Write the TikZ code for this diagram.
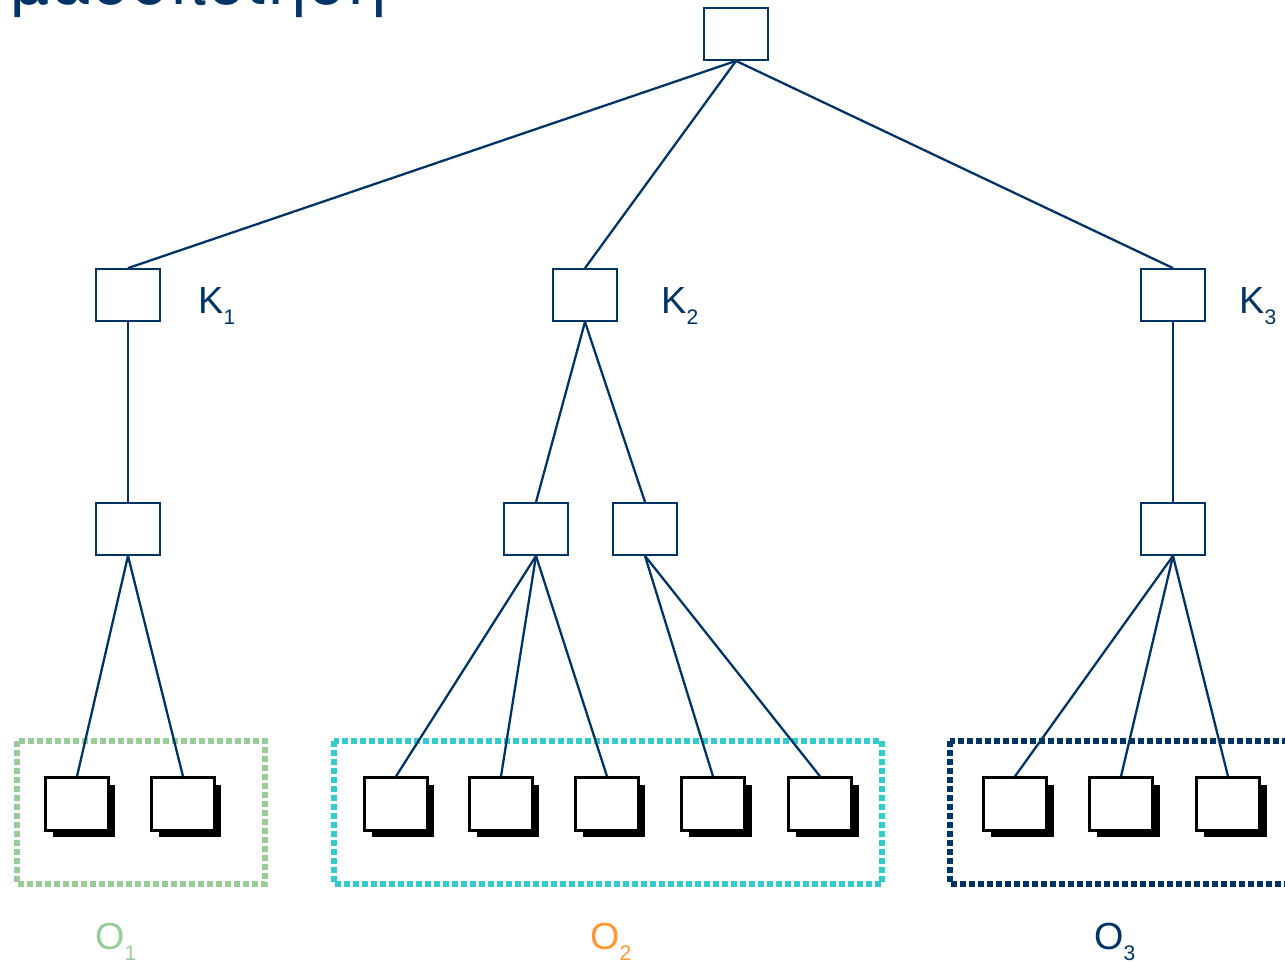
\documentclass[tikz,border=0pt]{standalone}
\usepackage{fontspec}
\setmainfont{Liberation Sans}
\newfontfamily\titlefont{DejaVu Sans}
\usetikzlibrary{shadows}
\definecolor{navy}{RGB}{0,51,102}
\definecolor{cgreen}{RGB}{153,204,153}
\definecolor{ccyan}{RGB}{51,204,204}
\definecolor{corange}{RGB}{255,153,51}
\newcommand{\sublab}[2]{#1\raisebox{-0.3em}{\fontsize{12}{12}\selectfont #2}}
\begin{document}
\begin{tikzpicture}[x=0.02cm,y=-0.02cm,
  box/.style={draw=navy,line width=1.3pt,minimum width=1.27cm,minimum height=1.03cm,inner sep=0pt},
  leaf/.style={draw=black,line width=1.6pt,fill=white,minimum width=1.26cm,minimum height=1.05cm,inner sep=0pt,
    drop shadow={fill=black,opacity=1,shadow xshift=0.14cm,shadow yshift=-0.14cm}},
  edge/.style={draw=navy,line width=1.3pt},
  cluster/.style={line width=3.8pt,dash pattern=on 0.12cm off 0.06cm},
  lbl/.style={font=\fontsize{21.5}{24}\selectfont,inner sep=0pt,anchor=base west}]
\useasboundingbox (0,0) rectangle (1285,963);
\clip (0,0) rectangle (1285,963);
% title, cut by the top edge
\node[anchor=base east,inner sep=0pt,text=navy,font=\titlefont\fontsize{36}{40}\selectfont] (title) at (388,5) {Ομαδοποίηση};
% clusters
\draw[cluster,draw=cgreen] (17,741) rectangle (265,884);
\draw[cluster,draw=ccyan] (334,741) rectangle (882,884);
\draw[cluster,draw=navy] (950,741) rectangle (1300,884);
% inner nodes
\node[box] (root) at (736,34) {};
\node[box] (k1) at (128,295) {};
\node[box] (k2) at (585,295) {};
\node[box] (k3) at (1173,295) {};
\node[box] (m1) at (128,529) {};
\node[box] (m2) at (536,529) {};
\node[box] (m3) at (645,529) {};
\node[box] (m4) at (1173,529) {};
% leaves
\node[leaf] (l1) at (77,804) {};
\node[leaf] (l2) at (183,804) {};
\node[leaf] (l3) at (396,804) {};
\node[leaf] (l4) at (501,804) {};
\node[leaf] (l5) at (607,804) {};
\node[leaf] (l6) at (713,804) {};
\node[leaf] (l7) at (820,804) {};
\node[leaf] (l8) at (1015,804) {};
\node[leaf] (l9) at (1121,804) {};
\node[leaf] (l10) at (1228,804) {};
% edges
\draw[edge] (root.south) -- (k1.north);
\draw[edge] (root.south) -- (k2.north);
\draw[edge] (root.south) -- (k3.north);
\draw[edge] (k1.south) -- (m1.north);
\draw[edge] (k2.south) -- (m2.north);
\draw[edge] (k2.south) -- (m3.north);
\draw[edge] (k3.south) -- (m4.north);
\foreach \l in {l1,l2} \draw[edge] (m1.south) -- (\l.north);
\foreach \l in {l3,l4,l5} \draw[edge] (m2.south) -- (\l.north);
\foreach \l in {l6,l7} \draw[edge] (m3.south) -- (\l.north);
\foreach \l in {l8,l9,l10} \draw[edge] (m4.south) -- (\l.north);
% labels
\node[lbl,text=navy] (kl1) at (198,313) {\sublab{K}{1}};
\node[lbl,text=navy] (kl2) at (661,313) {\sublab{K}{2}};
\node[lbl,text=navy] (kl3) at (1239,313) {\sublab{K}{3}};
\node[lbl,text=cgreen] (ol1) at (95,949) {\sublab{O}{1}};
\node[lbl,text=corange] (ol2) at (590,949) {\sublab{O}{2}};
\node[lbl,text=navy] (ol3) at (1094,949) {\sublab{O}{3}};
\end{tikzpicture}
\end{document}
